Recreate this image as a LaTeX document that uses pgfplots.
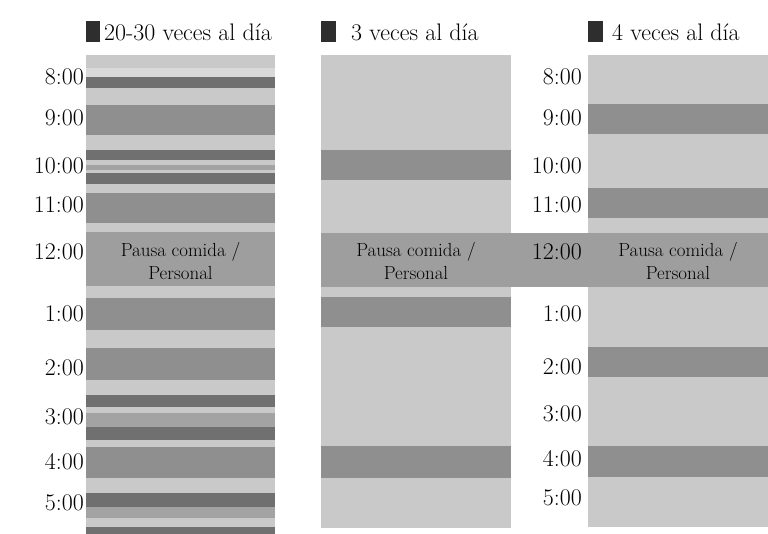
\documentclass[border=0pt]{standalone}
\usepackage{pgfplots}
\pgfplotsset{compat=1.18}
\definecolor{lite}{gray}{0.79}
\definecolor{lite2}{gray}{0.85}
\definecolor{med}{gray}{0.64}
\definecolor{dk}{gray}{0.56}
\definecolor{dkr}{gray}{0.44}
\definecolor{pausa}{gray}{0.62}
\definecolor{icon}{gray}{0.18}
\tikzset{
  lbl/.style={font=\fontsize{24}{27}\selectfont, anchor=east, inner sep=0pt},
  ps/.style={font=\fontsize{19}{23}\selectfont, align=center, inner sep=0pt},
  leg/.style={font=\fontsize{24}{27}\selectfont, anchor=west, inner sep=0pt},
}
\begin{document}
\begin{tikzpicture}
\begin{axis}[
  width=768bp, height=534bp, scale only axis,
  xmin=0, xmax=768, ymin=0, ymax=534, y dir=reverse,
  hide axis, clip=false,
  every axis plot/.append style={draw=none},
]
% ---- page background (white)
\addplot[fill=white] coordinates {(0,0) (768,0) (768,534) (0,534)} --cycle;
% ---- legend icons
\addplot[fill=icon] coordinates {(86,21) (100,21) (100,42) (86,42)} --cycle;
\addplot[fill=icon] coordinates {(321,21) (336,21) (336,42) (321,42)} --cycle;
\addplot[fill=icon] coordinates {(588,21) (603,21) (603,42) (588,42)} --cycle;
% ---- column 1: 20-30 veces al dia
\addplot[fill=lite]  coordinates {(86,55) (275,55) (275,534) (86,534)} --cycle;
\addplot[fill=lite2] coordinates {(86,68) (275,68) (275,77) (86,77)} --cycle;
\addplot[fill=dkr]   coordinates {(86,77) (275,77) (275,88) (86,88)} --cycle;
\addplot[fill=dk]    coordinates {(86,105) (275,105) (275,135) (86,135)} --cycle;
\addplot[fill=dkr]   coordinates {(86,150) (275,150) (275,160) (86,160)} --cycle;
\addplot[fill=med]   coordinates {(86,165) (275,165) (275,170) (86,170)} --cycle;
\addplot[fill=dkr]   coordinates {(86,173) (275,173) (275,184) (86,184)} --cycle;
\addplot[fill=dk]    coordinates {(86,193) (275,193) (275,223) (86,223)} --cycle;
\addplot[fill=pausa] coordinates {(86,232) (275,232) (275,286) (86,286)} --cycle;
\addplot[fill=dk]    coordinates {(86,298) (275,298) (275,330) (86,330)} --cycle;
\addplot[fill=dk]    coordinates {(86,348) (275,348) (275,380) (86,380)} --cycle;
\addplot[fill=dkr]   coordinates {(86,395) (275,395) (275,407) (86,407)} --cycle;
\addplot[fill=med]   coordinates {(86,413) (275,413) (275,427) (86,427)} --cycle;
\addplot[fill=dkr]   coordinates {(86,427) (275,427) (275,440) (86,440)} --cycle;
\addplot[fill=dk]    coordinates {(86,447) (275,447) (275,478) (86,478)} --cycle;
\addplot[fill=dkr]   coordinates {(86,493) (275,493) (275,507) (86,507)} --cycle;
\addplot[fill=med]   coordinates {(86,507) (275,507) (275,518) (86,518)} --cycle;
\addplot[fill=dkr]   coordinates {(86,527) (275,527) (275,534) (86,534)} --cycle;
% ---- column 2: 3 veces al dia
\addplot[fill=lite]  coordinates {(321,55) (511,55) (511,528) (321,528)} --cycle;
\addplot[fill=dk]    coordinates {(321,150) (511,150) (511,180) (321,180)} --cycle;
\addplot[fill=pausa] coordinates {(321,233) (511,233) (511,287) (321,287)} --cycle;
\addplot[fill=dk]    coordinates {(321,297) (511,297) (511,327) (321,327)} --cycle;
\addplot[fill=dk]    coordinates {(321,446) (511,446) (511,478) (321,478)} --cycle;
% ---- gap at noon
\addplot[fill=pausa] coordinates {(511,233) (588,233) (588,287) (511,287)} --cycle;
% ---- column 3: 4 veces al dia
\addplot[fill=lite]  coordinates {(588,55) (768,55) (768,527) (588,527)} --cycle;
\addplot[fill=dk]    coordinates {(588,104) (768,104) (768,134) (588,134)} --cycle;
\addplot[fill=dk]    coordinates {(588,188) (768,188) (768,218) (588,218)} --cycle;
\addplot[fill=pausa] coordinates {(588,233) (768,233) (768,287) (588,287)} --cycle;
\addplot[fill=dk]    coordinates {(588,347) (768,347) (768,377) (588,377)} --cycle;
\addplot[fill=dk]    coordinates {(588,446) (768,446) (768,477) (588,477)} --cycle;
% ---- legend texts
\node[leg] at (axis cs:104,32) {20-30 veces al día};
\node[leg] at (axis cs:351,32) {3 veces al día};
\node[leg] at (axis cs:612,32) {4 veces al día};
% ---- pausa texts
\node[ps] at (axis cs:180.5,261) {Pausa comida /\\Personal};
\node[ps] at (axis cs:416,261) {Pausa comida /\\Personal};
\node[ps] at (axis cs:678,261) {Pausa comida /\\Personal};
% ---- time labels, left
\node[lbl] at (axis cs:84,77) {8:00};
\node[lbl] at (axis cs:84,118) {9:00};
\node[lbl] at (axis cs:84,166) {10:00};
\node[lbl] at (axis cs:84,205) {11:00};
\node[lbl] at (axis cs:84,252) {12:00};
\node[lbl] at (axis cs:84,314) {1:00};
\node[lbl] at (axis cs:84,368) {2:00};
\node[lbl] at (axis cs:84,417) {3:00};
\node[lbl] at (axis cs:84,462) {4:00};
\node[lbl] at (axis cs:84,503) {5:00};
% ---- time labels, middle
\node[lbl] at (axis cs:582,77) {8:00};
\node[lbl] at (axis cs:582,118) {9:00};
\node[lbl] at (axis cs:582,166) {10:00};
\node[lbl] at (axis cs:582,205) {11:00};
\node[lbl] at (axis cs:582,252) {12:00};
\node[lbl] at (axis cs:582,314) {1:00};
\node[lbl] at (axis cs:582,367) {2:00};
\node[lbl] at (axis cs:582,414) {3:00};
\node[lbl] at (axis cs:582,459) {4:00};
\node[lbl] at (axis cs:582,498) {5:00};
\end{axis}
\end{tikzpicture}
\end{document}
